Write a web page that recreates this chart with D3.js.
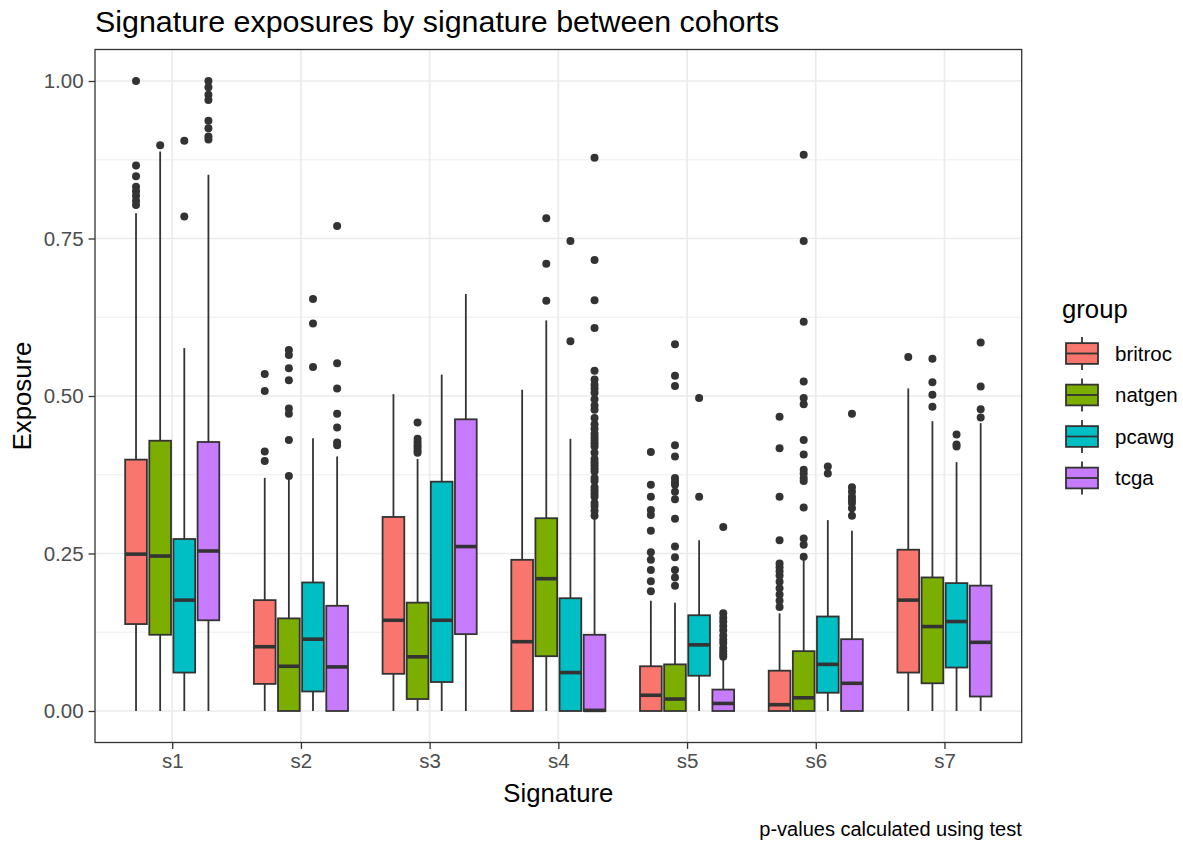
<!DOCTYPE html>
<html>
<head>
<meta charset="utf-8">
<script src="https://cdn.jsdelivr.net/npm/d3@7"></script>
<style>
  body { margin: 0; background: #ffffff; }
  svg { display: block; font-family: "Liberation Sans", Arial, sans-serif; }
</style>
</head>
<body>
<svg id="chart" width="1183" height="843"></svg>
<script>
// ---- data -------------------------------------------------------------
const signatures = ["s1", "s2", "s3", "s4", "s5", "s6", "s7"];
const groups = ["britroc", "natgen", "pcawg", "tcga"];
const groupColors = ["#F8766D", "#7CAE00", "#00BFC4", "#C77CFF"];
const yTicks = [0, 0.25, 0.5, 0.75, 1];
const yMinorTicks = [0.125, 0.375, 0.625, 0.875];

// Box statistics, one row per group (britroc, natgen, pcawg, tcga), one column per signature
const whiskerLow = [
  [0, 0, 0, 0, 0, 0, 0],
  [0, 0, 0, 0, 0, 0, 0],
  [0, 0, 0, 0, 0, 0, 0],
  [0, 0, 0, 0, 0, 0, 0]
];
const lowerHinge = [
  [0.138, 0.043, 0.059, 0.000, 0.000, 0.000, 0.061],
  [0.121, 0.000, 0.019, 0.087, 0.000, 0.000, 0.044],
  [0.061, 0.031, 0.046, 0.000, 0.056, 0.029, 0.069],
  [0.144, 0.000, 0.122, 0.000, 0.000, 0.000, 0.023]
];
const medians = [
  [0.249, 0.102, 0.144, 0.110, 0.025, 0.010, 0.176],
  [0.246, 0.071, 0.086, 0.210, 0.019, 0.021, 0.134],
  [0.176, 0.114, 0.144, 0.061, 0.105, 0.074, 0.142],
  [0.254, 0.070, 0.261, 0.001, 0.012, 0.044, 0.109]
];
const upperHinge = [
  [0.399, 0.176, 0.308, 0.240, 0.071, 0.064, 0.256],
  [0.429, 0.147, 0.172, 0.306, 0.074, 0.095, 0.212],
  [0.273, 0.204, 0.364, 0.179, 0.152, 0.150, 0.203],
  [0.427, 0.167, 0.463, 0.121, 0.034, 0.114, 0.199]
];
const whiskerHigh = [
  [0.790, 0.370, 0.503, 0.510, 0.175, 0.155, 0.512],
  [0.888, 0.372, 0.400, 0.620, 0.172, 0.240, 0.460],
  [0.576, 0.433, 0.534, 0.432, 0.271, 0.303, 0.395],
  [0.851, 0.404, 0.662, 0.305, 0.082, 0.286, 0.457]
];

// Outlying samples per signature
const outliersBritroc = [
  [1.0, 0.866, 0.849, 0.832, 0.825, 0.818, 0.81, 0.803],
  [0.535, 0.508, 0.412, 0.397],
  [],
  [],
  [0.411, 0.359, 0.340, 0.319, 0.311, 0.286, 0.252, 0.24, 0.224, 0.206, 0.19],
  [0.467, 0.417, 0.340, 0.271, 0.234, 0.228, 0.222, 0.215, 0.205, 0.195, 0.185, 0.175, 0.165],
  [0.562]
];
const outliersNatgen = [
  [0.898],
  [0.573, 0.565, 0.544, 0.525, 0.480, 0.472, 0.430, 0.373],
  [0.458, 0.432, 0.427, 0.422, 0.418, 0.413, 0.41],
  [0.782, 0.710, 0.651],
  [0.582, 0.532, 0.516, 0.422, 0.404, 0.370, 0.364, 0.359, 0.348, 0.336, 0.305, 0.261, 0.244, 0.224, 0.212, 0.199],
  [0.883, 0.746, 0.618, 0.523, 0.497, 0.487, 0.430, 0.407, 0.383, 0.377, 0.370, 0.365, 0.323, 0.274, 0.264, 0.245],
  [0.559, 0.522, 0.502, 0.483]
];
const outliersPcawg = [
  [0.905, 0.785],
  [0.654, 0.615, 0.546],
  [],
  [0.746, 0.587],
  [0.497, 0.340],
  [0.388, 0.377],
  [0.439, 0.423, 0.42]
];
const outliersTcga = [
  [1.0, 0.99, 0.978, 0.97, 0.937, 0.925, 0.912, 0.907],
  [0.770, 0.552, 0.512, 0.472, 0.45, 0.426, 0.422],
  [],
  [0.878, 0.716, 0.652, 0.608, 0.54, 0.526, 0.518, 0.512, 0.505, 0.495, 0.485, 0.478, 0.465,
   0.455, 0.448, 0.44, 0.435, 0.43, 0.425, 0.42, 0.41, 0.40, 0.395, 0.39, 0.385, 0.38, 0.37,
   0.365, 0.355, 0.35, 0.345, 0.34, 0.33, 0.325, 0.318, 0.31],
  [0.292, 0.155, 0.148, 0.142, 0.135, 0.128, 0.12, 0.113, 0.108, 0.1, 0.095, 0.09, 0.086],
  [0.472, 0.355, 0.348, 0.34, 0.335, 0.33, 0.322, 0.31],
  [0.585, 0.515, 0.479, 0.466]
];
const outliers = [outliersBritroc, outliersNatgen, outliersPcawg, outliersTcga];

// ---- layout -----------------------------------------------------------
const panel = { left: 95, right: 1021.7, top: 49.5, bottom: 742.5 };
const ink = "#333333";

const svg = d3.select("#chart");

const x = d3.scalePoint()
  .domain(signatures)
  .range([panel.left, panel.right])
  .padding(0.6);

const dodgeWidth = 0.75 * x.step();
const gx = d3.scaleBand()
  .domain(groups)
  .range([-dodgeWidth / 2, dodgeWidth / 2])
  .padding(0);
const boxWidth = gx.bandwidth() * 0.9;

const y = d3.scaleLinear()
  .domain([-0.05, 1.05])
  .range([panel.bottom, panel.top]);

const color = d3.scaleOrdinal().domain(groups).range(groupColors);

// ---- panel background & grid -------------------------------------------
svg.append("rect")
  .attr("x", panel.left).attr("y", panel.top)
  .attr("width", panel.right - panel.left)
  .attr("height", panel.bottom - panel.top)
  .attr("fill", "#ffffff");

const grid = svg.append("g");
grid.selectAll("line.minor")
  .data(yMinorTicks).join("line")
  .attr("class", "minor")
  .attr("x1", panel.left).attr("x2", panel.right)
  .attr("y1", d => y(d)).attr("y2", d => y(d))
  .attr("stroke", "#EBEBEB").attr("stroke-width", 0.9);
grid.selectAll("line.major-y")
  .data(yTicks).join("line")
  .attr("class", "major-y")
  .attr("x1", panel.left).attr("x2", panel.right)
  .attr("y1", d => y(d)).attr("y2", d => y(d))
  .attr("stroke", "#EBEBEB").attr("stroke-width", 1.7);
grid.selectAll("line.major-x")
  .data(signatures).join("line")
  .attr("class", "major-x")
  .attr("x1", d => x(d)).attr("x2", d => x(d))
  .attr("y1", panel.top).attr("y2", panel.bottom)
  .attr("stroke", "#EBEBEB").attr("stroke-width", 1.7);

// ---- boxplots ----------------------------------------------------------
const boxes = [];
signatures.forEach((s, si) => {
  groups.forEach((g, gi) => {
    boxes.push({
      group: g, sig: s,
      lo: whiskerLow[gi][si], q1: lowerHinge[gi][si], med: medians[gi][si],
      q3: upperHinge[gi][si], hi: whiskerHigh[gi][si], out: outliers[gi][si]
    });
  });
});

const cx = d => x(d.sig) + gx(d.group) + gx.bandwidth() / 2;

const bx = svg.append("g").selectAll("g.box").data(boxes).join("g").attr("class", "box");

bx.selectAll("circle")
  .data(d => d.out.map(v => ({ v, d })))
  .join("circle")
  .attr("cx", o => cx(o.d))
  .attr("cy", o => y(o.v))
  .attr("r", 4)
  .attr("fill", ink);

bx.append("line")
  .attr("x1", cx).attr("x2", cx)
  .attr("y1", d => y(d.q3)).attr("y2", d => y(d.hi))
  .attr("stroke", ink).attr("stroke-width", 1.8);
bx.append("line")
  .attr("x1", cx).attr("x2", cx)
  .attr("y1", d => y(d.q1)).attr("y2", d => y(d.lo))
  .attr("stroke", ink).attr("stroke-width", 1.8);

bx.append("rect")
  .attr("x", d => cx(d) - boxWidth / 2)
  .attr("width", boxWidth)
  .attr("y", d => y(d.q3))
  .attr("height", d => y(d.q1) - y(d.q3))
  .attr("fill", d => color(d.group))
  .attr("stroke", ink).attr("stroke-width", 1.8);

bx.append("line")
  .attr("x1", d => cx(d) - boxWidth / 2).attr("x2", d => cx(d) + boxWidth / 2)
  .attr("y1", d => y(d.med)).attr("y2", d => y(d.med))
  .attr("stroke", ink).attr("stroke-width", 3.6);

// ---- panel border & axes ----------------------------------------------
svg.append("rect")
  .attr("x", panel.left).attr("y", panel.top)
  .attr("width", panel.right - panel.left)
  .attr("height", panel.bottom - panel.top)
  .attr("fill", "none").attr("stroke", ink).attr("stroke-width", 1.3);

const yAxis = svg.append("g")
  .attr("transform", `translate(${panel.left},0)`)
  .call(d3.axisLeft(y).tickValues(yTicks).tickFormat(d3.format(".2f"))
          .tickSize(6.4).tickPadding(5));
const xAxis = svg.append("g")
  .attr("transform", `translate(0,${panel.bottom})`)
  .call(d3.axisBottom(x).tickSize(6.4).tickPadding(5));

[yAxis, xAxis].forEach(a => {
  a.select(".domain").remove();
  a.selectAll(".tick line").attr("stroke", ink).attr("stroke-width", 1.3);
  a.selectAll(".tick text")
    .attr("fill", "#4D4D4D")
    .style("font-size", "20.5px")
    .style("font-family", "'Liberation Sans', Arial, sans-serif");
});

// ---- titles -----------------------------------------------------------
svg.append("text")
  .attr("x", panel.left).attr("y", 32)
  .style("font-size", "30.4px").attr("fill", "#000")
  .text("Signature exposures by signature between cohorts");

svg.append("text")
  .attr("x", (panel.left + panel.right) / 2).attr("y", 802)
  .attr("text-anchor", "middle")
  .style("font-size", "25.7px").attr("fill", "#000")
  .text("Signature");

svg.append("text")
  .attr("transform", `translate(31,${(panel.top + panel.bottom) / 2}) rotate(-90)`)
  .attr("text-anchor", "middle")
  .style("font-size", "25.7px").attr("fill", "#000")
  .text("Exposure");

svg.append("text")
  .attr("x", panel.right).attr("y", 836)
  .attr("text-anchor", "end")
  .style("font-size", "20px").attr("fill", "#000")
  .text("p-values calculated using test");

// ---- legend -----------------------------------------------------------
const legend = svg.append("g").attr("transform", "translate(1062,0)");
legend.append("text")
  .attr("x", 0).attr("y", 318)
  .style("font-size", "25.7px").attr("fill", "#000")
  .text("group");

const keyY = d3.scalePoint().domain(groups).range([353.5, 478]);
const keyW = 40, keyH = 41.5;
const keys = legend.selectAll("g.key").data(groups).join("g")
  .attr("class", "key")
  .attr("transform", g => `translate(0,${keyY(g)})`);
keys.append("line")
  .attr("x1", keyW / 2).attr("x2", keyW / 2)
  .attr("y1", -keyH * 0.4).attr("y2", keyH * 0.4)
  .attr("stroke", ink).attr("stroke-width", 1.8);
keys.append("rect")
  .attr("x", keyW * 0.1).attr("width", keyW * 0.8)
  .attr("y", -keyH * 0.25).attr("height", keyH * 0.5)
  .attr("fill", g => color(g))
  .attr("stroke", ink).attr("stroke-width", 1.8);
keys.append("line")
  .attr("x1", keyW * 0.1).attr("x2", keyW * 0.9)
  .attr("y1", 0).attr("y2", 0)
  .attr("stroke", ink).attr("stroke-width", 1.8);
keys.append("text")
  .attr("x", 53).attr("y", 0).attr("dy", "0.35em")
  .style("font-size", "20.5px").attr("fill", "#000")
  .text(g => g);
</script>
</body>
</html>
